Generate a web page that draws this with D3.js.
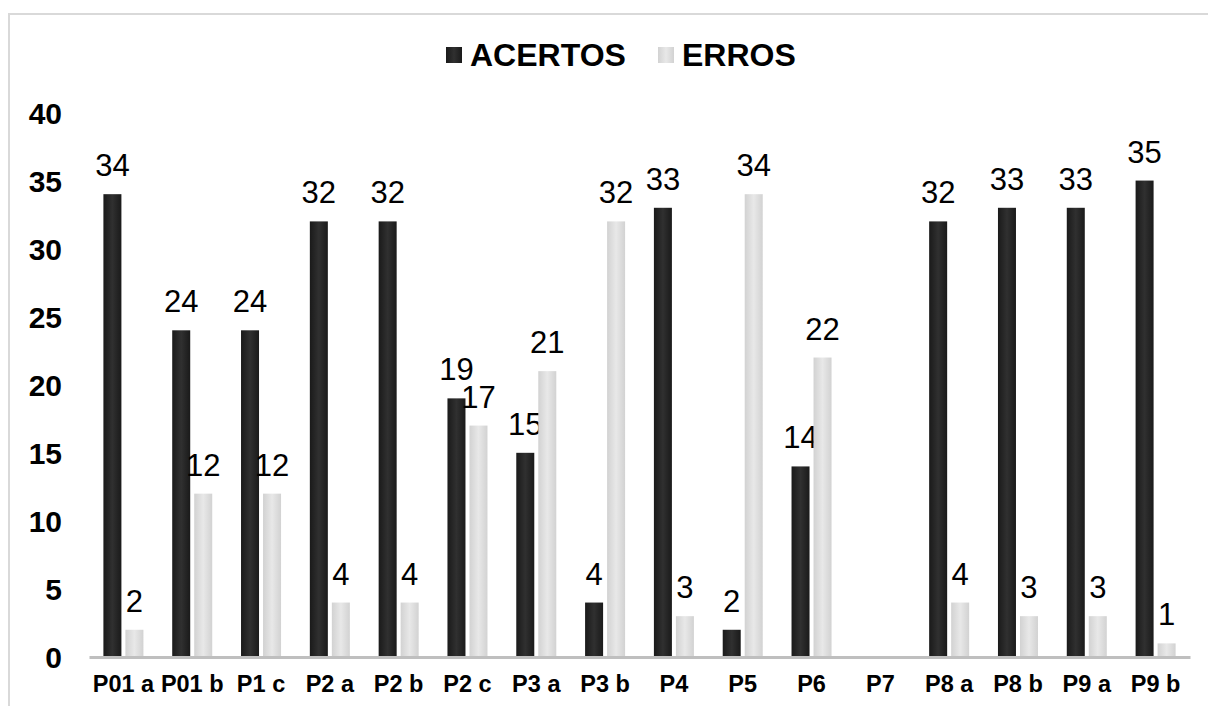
<!DOCTYPE html>
<html>
<head>
<meta charset="utf-8">
<script src="https://cdn.jsdelivr.net/npm/d3@7"></script>
<style>
  html, body { margin: 0; padding: 0; background: #fff; }
  svg { display: block; font-family: "Liberation Sans", Arial, sans-serif; }
</style>
</head>
<body>
<svg id="chart" width="1208" height="706"></svg>
<script>
// Questions (categories) and counts per series
const categories = ["P01 a", "P01 b", "P1 c", "P2 a", "P2 b", "P2 c", "P3 a", "P3 b",
                    "P4", "P5", "P6", "P7", "P8 a", "P8 b", "P9 a", "P9 b"];
const acertos = [34, 24, 24, 32, 32, 19, 15, 4, 33, 2, 14, null, 32, 33, 33, 35];
const erros   = [2, 12, 12, 4, 4, 17, 21, 32, 3, 34, 22, null, 4, 3, 3, 1];
const seriesNames = ["ACERTOS", "ERROS"];
const yTicks = [0, 5, 10, 15, 20, 25, 30, 35, 40];

const series = [
  { name: seriesNames[0], values: acertos, grad: "gradDark" },
  { name: seriesNames[1], values: erros, grad: "gradLight" }
];

const svg = d3.select("#chart");

// gradients giving the bars a soft rounded look
const defs = svg.append("defs");
function addGrad(id, edge, mid) {
  const g = defs.append("linearGradient").attr("id", id)
    .attr("x1", "0%").attr("x2", "100%").attr("y1", "0%").attr("y2", "0%");
  g.append("stop").attr("offset", "0%").attr("stop-color", edge);
  g.append("stop").attr("offset", "50%").attr("stop-color", mid);
  g.append("stop").attr("offset", "100%").attr("stop-color", edge);
}
addGrad("gradDark", "#1a1a1a", "#303030");
addGrad("gradLight", "#d2d2d2", "#e8e8e8");

// outer frame
svg.append("rect")
  .attr("x", 9).attr("y", 14)
  .attr("width", 1230).attr("height", 720)
  .attr("fill", "none").attr("stroke", "#d9d9d9").attr("stroke-width", 2);

const plot = { left: 89, right: 1190, top: 112.5, bottom: 657 };

const x0 = d3.scaleBand().domain(categories).range([plot.left, plot.right]).padding(0);
const bw = x0.bandwidth();
const x1 = d3.scaleBand().domain(seriesNames)
  .range([bw * 0.2093, bw * 0.7907])
  .paddingInner(0.1818);
const y = d3.scaleLinear().domain([0, 40]).range([plot.bottom, plot.top]);

// y-axis labels (no axis line, no grid)
const yAxis = d3.axisLeft(y).tickValues(yTicks).tickSize(0).tickPadding(0);
const yg = svg.append("g").attr("transform", "translate(62,0)").call(yAxis);
yg.select(".domain").remove();
yg.selectAll("text")
  .attr("x", 0)
  .attr("dy", "0.36em")
  .attr("fill", "#000")
  .style("font-size", "30px")
  .style("font-weight", "bold")
  .style("font-family", "'Liberation Sans', Arial, sans-serif");

// bars
const groups = svg.append("g").selectAll("g")
  .data(series).join("g");

groups.selectAll("rect")
  .data(s => categories.map((c, i) => ({ cat: c, v: s.values[i], s }))
                 .filter(d => d.v != null))
  .join("rect")
  .attr("x", d => x0(d.cat) + x1(d.s.name))
  .attr("width", x1.bandwidth())
  .attr("y", d => y(d.v))
  .attr("height", d => y(0) - y(d.v))
  .attr("fill", d => `url(#${d.s.grad})`);

// value labels
groups.selectAll("text")
  .data(s => categories.map((c, i) => ({ cat: c, v: s.values[i], s }))
                 .filter(d => d.v != null))
  .join("text")
  .attr("x", d => x0(d.cat) + x1(d.s.name) + x1.bandwidth() / 2)
  .attr("y", d => y(d.v) - 18)
  .attr("text-anchor", "middle")
  .attr("fill", "#000")
  .style("font-size", "31px")
  .text(d => d.v);

// x axis
const xAxis = d3.axisBottom(x0).tickSize(0).tickPadding(0);
const xg = svg.append("g").attr("transform", `translate(0,${plot.bottom})`).call(xAxis);
xg.select(".domain").attr("stroke", "#bfbfbf").attr("stroke-width", 3);
xg.selectAll("text")
  .attr("y", 35)
  .attr("dy", 0)
  .attr("fill", "#000")
  .style("font-size", "23.5px")
  .style("font-weight", "bold")
  .style("font-family", "'Liberation Sans', Arial, sans-serif");

// legend
const legend = svg.append("g");
const legendItems = [
  { name: seriesNames[0], grad: "gradDark", x: 446 },
  { name: seriesNames[1], grad: "gradLight", x: 658 }
];
legendItems.forEach(it => {
  legend.append("rect")
    .attr("x", it.x).attr("y", 47).attr("width", 16).attr("height", 16)
    .attr("fill", `url(#${it.grad})`);
  legend.append("text")
    .attr("x", it.x + 24).attr("y", 66)
    .attr("fill", "#000")
    .style("font-size", "32px")
    .style("font-weight", "bold")
    .text(it.name);
});
</script>
</body>
</html>
